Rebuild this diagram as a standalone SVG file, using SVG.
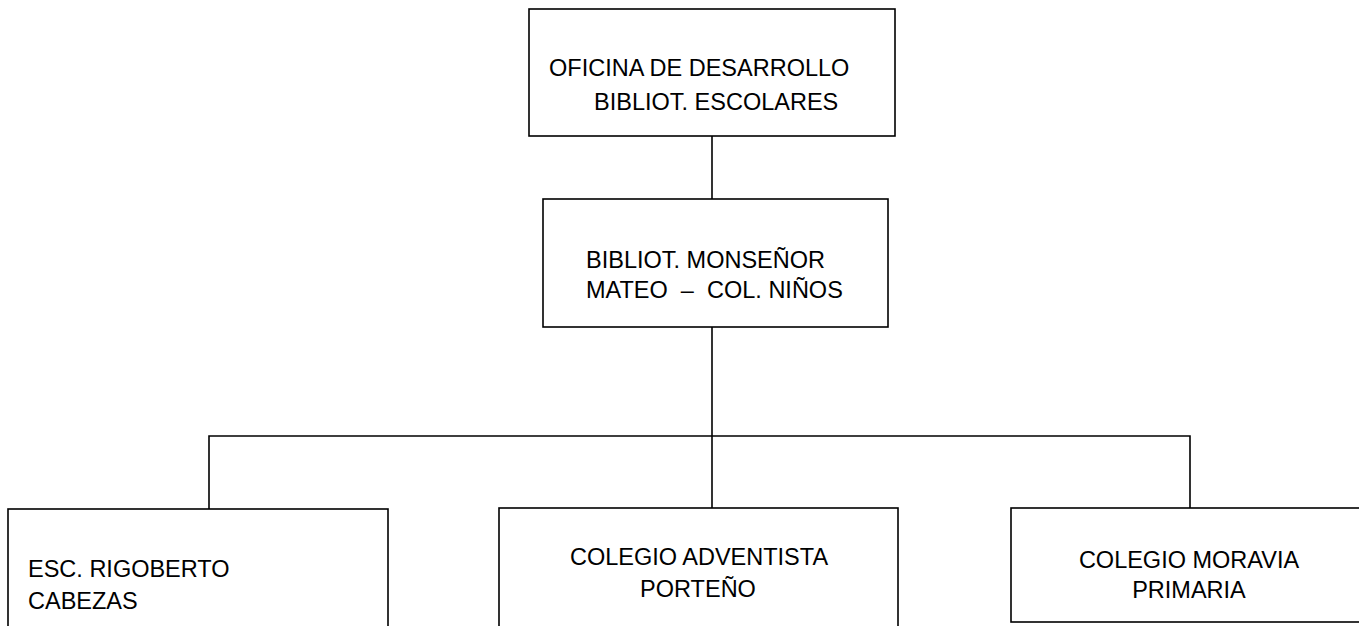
<svg xmlns="http://www.w3.org/2000/svg" width="1359" height="626" viewBox="0 0 1359 626">
<style>
.box{fill:#fff;stroke:#000;stroke-width:1.6}
.ln{fill:none;stroke:#000;stroke-width:1.6}
text{font-family:"Liberation Sans",Arial,sans-serif;font-size:23.5px;fill:#000;white-space:pre}
.c{text-anchor:middle}
</style>
<rect width="1359" height="626" fill="#fff"/>
<g id="connectors">
<line class="ln" x1="712" y1="136" x2="712" y2="199"/>
<line class="ln" x1="712" y1="327" x2="712" y2="509"/>
<polyline class="ln" points="209,509 209,436 1190,436 1190,509"/>
</g>
<g id="oficina">
<rect class="box" x="529" y="9" width="366" height="127"/>
<text x="549" y="76">OFICINA DE DESARROLLO</text>
<text x="594" y="110">BIBLIOT. ESCOLARES</text>
</g>
<g id="monsenor">
<rect class="box" x="543" y="199" width="345" height="128"/>
<text x="586" y="268">BIBLIOT. MONSEÑOR</text>
<text x="586" y="298" xml:space="preserve">MATEO  –  COL. NIÑOS</text>
</g>
<g id="rigoberto">
<rect class="box" x="8" y="509" width="380" height="130"/>
<text x="28" y="577">ESC. RIGOBERTO</text>
<text x="28" y="609">CABEZAS</text>
</g>
<g id="adventista">
<rect class="box" x="499" y="508" width="399" height="130"/>
<text class="c" x="699" y="565">COLEGIO ADVENTISTA</text>
<text class="c" x="698" y="597">PORTEÑO</text>
</g>
<g id="moravia">
<rect class="box" x="1011" y="508" width="360" height="114"/>
<text class="c" x="1189" y="568">COLEGIO MORAVIA</text>
<text class="c" x="1189" y="598">PRIMARIA</text>
</g>
</svg>
